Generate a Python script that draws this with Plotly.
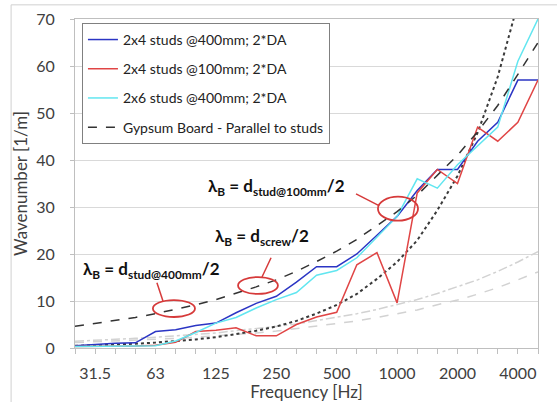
import plotly.graph_objects as go

bands = ["25", "31.5", "40", "50", "63", "80", "100", "125", "160", "200", "250", "315",
         "400", "500", "630", "800", "1000", "1250", "1600", "2000", "2500", "3150", "4000", "5000"]
tick_labels = ["31.5", "63", "125", "250", "500", "1000", "2000", "4000"]

studs2x4_400 = [0.5, 0.8, 1.0, 1.1, 3.5, 3.9, 4.8, 5.3, 7.5, 9.5, 11.0, 14.0,
                17.3, 17.3, 20.0, 24.0, 28.0, 33.5, 38.0, 38.0, 44.0, 48.0, 57.0, 57.0]
studs2x4_100 = [0.3, 0.3, 0.3, 0.4, 0.6, 1.2, 3.5, 3.8, 4.3, 2.6, 2.6, 5.0,
                6.6, 7.6, 17.7, 20.3, 9.6, 33.0, 38.0, 35.0, 47.0, 44.0, 48.0, 57.0]
studs2x6_400 = [0.3, 0.3, 0.4, 0.4, 0.5, 1.5, 3.3, 5.3, 6.5, 8.5, 10.3, 11.8,
                15.5, 16.5, 19.2, 23.5, 28.0, 36.0, 34.0, 39.0, 43.0, 47.0, 61.0, 70.0]
gypsum_parallel = [4.6, 5.2, 5.8, 6.5, 7.3, 8.2, 9.2, 10.3, 11.6, 13.0, 14.5, 16.3,
                   18.4, 20.6, 23.1, 26.0, 29.0, 32.5, 36.8, 41.0, 46.0, 51.6, 58.2, 65.0]
air_curve = [0.46, 0.58, 0.73, 0.92, 1.15, 1.47, 1.83, 2.29, 2.93, 3.66, 4.58, 5.77,
             7.33, 9.16, 11.5, 14.7, 18.3, 22.9, 29.3, 36.6, 45.8, 57.7, 73.3, 91.6]
grey_upper = [1.45, 1.6, 1.8, 2.05, 2.3, 2.6, 2.9, 3.2, 3.7, 4.1, 4.6, 5.1,
              5.8, 6.5, 7.3, 8.2, 9.2, 10.3, 11.6, 13.0, 14.5, 16.3, 18.3, 20.5]
grey_lower = [1.15, 1.3, 1.45, 1.6, 1.8, 2.05, 2.3, 2.55, 2.9, 3.2, 3.6, 4.1,
              4.6, 5.1, 5.75, 6.5, 7.25, 8.1, 9.2, 10.2, 11.45, 12.85, 14.5, 16.2]

FONT = "Lato"
fig = go.Figure()

# background curves (no legend)
fig.add_trace(go.Scatter(x=bands, y=grey_upper, mode="lines", showlegend=False,
                         line=dict(color="#d2d2d2", width=1.5, dash="dashdot")))
fig.add_trace(go.Scatter(x=bands, y=grey_lower, mode="lines", showlegend=False,
                         line=dict(color="#d2d2d2", width=1.5, dash="dash")))
fig.add_trace(go.Scatter(x=bands, y=air_curve, mode="lines", showlegend=False,
                         line=dict(color="#3a3a3a", width=2, dash="dot")))

fig.add_trace(go.Scatter(x=bands, y=studs2x4_400, mode="lines", name="2x4 studs @400mm; 2*DA",
                         legendgroup="a", line=dict(color="#2b35c4", width=1.5)))
fig.add_trace(go.Scatter(x=bands, y=studs2x4_100, mode="lines", name="2x4 studs @100mm; 2*DA",
                         legendgroup="b", line=dict(color="#e04545", width=1.5)))
fig.add_trace(go.Scatter(x=bands, y=studs2x6_400, mode="lines", name="2x6 studs @400mm; 2*DA",
                         legendgroup="c", line=dict(color="#62e6f0", width=1.5)))
fig.add_trace(go.Scatter(x=bands, y=gypsum_parallel, mode="lines",
                         name="Gypsum Board - Parallel to studs",
                         legendgroup="d", line=dict(color="#333333", width=1.5, dash="dash")))

ticktext = [b if b in tick_labels else "" for b in bands]

fig.update_xaxes(type="category", categoryorder="array", categoryarray=bands,
                 range=[0, 23], tickmode="array", tickvals=bands, ticktext=ticktext,
                 ticks="outside", ticklen=5, tickcolor="#bfbfbf", ticklabelstandoff=6,
                 automargin=False,
                 showgrid=False, showline=True, linecolor="#bfbfbf", mirror=True,
                 tickfont=dict(family=FONT, size=16, color="#404040"),
                 title=dict(text="Frequency [Hz]", standoff=0,
                            font=dict(family=FONT, size=17, color="#404040")))
fig.update_yaxes(range=[0, 70], dtick=10, ticks="outside", ticklen=4, tickcolor="#bfbfbf",
                 ticklabelstandoff=12, automargin=False,
                 showgrid=True, gridcolor="#d9d9d9", zeroline=False,
                 showline=True, linecolor="#bfbfbf", mirror=True,
                 tickfont=dict(family=FONT, size=16, color="#404040"),
                 title=dict(text="Wavenumber [1/m]", standoff=4,
                            font=dict(family=FONT, size=17, color="#404040")))

RED = "#d63a3a"
ellipses = [(3.87, 5.96, 6.6, 10.2), (8.10, 10.08, 11.5, 15.1), (15.05, 17.04, 27.1, 32.2)]
for x0, x1, y0, y1 in ellipses:
    fig.add_shape(type="circle", xref="x", yref="y", x0=x0, x1=x1, y0=y0, y1=y1,
                  line=dict(color=RED, width=1.8))
pointers = [(4.07, 13.9, 4.37, 10.0), (9.74, 19.2, 9.29, 15.1), (13.96, 32.8, 15.1, 30.3)]
for x0, y0, x1, y1 in pointers:
    fig.add_shape(type="line", xref="x", yref="y", x0=x0, y0=y0, x1=x1, y1=y1,
                  line=dict(color=RED, width=1.5))

labels = [(10.03, 34.3, "λ<sub>B</sub> = d<sub>stud@100mm</sub>/2"),
          (9.3, 23.7, "λ<sub>B</sub> = d<sub>screw</sub>/2"),
          (3.8, 16.6, "λ<sub>B</sub> = d<sub>stud@400mm</sub>/2")]
for x, y, t in labels:
    fig.add_annotation(x=x, y=y, xref="x", yref="y", text="<b>" + t + "</b>", showarrow=False,
                       font=dict(family=FONT, size=17, color="#111111"))

# chart frame
fig.add_shape(type="line", xref="paper", yref="paper", x0=-0.138, x1=1.2, y0=1.043, y1=1.043,
              line=dict(color="#d0d0d0", width=1))
fig.add_shape(type="line", xref="paper", yref="paper", x0=-0.138, x1=-0.138, y0=1.043, y1=-0.2,
              line=dict(color="#d0d0d0", width=1))

fig.update_layout(
    width=557, height=402,
    margin=dict(l=75, r=19, t=19, b=54),
    paper_bgcolor="white", plot_bgcolor="white",
    legend=dict(x=0.015, y=0.988, xanchor="left", yanchor="top",
                bgcolor="white", bordercolor="#808080", borderwidth=1,
                font=dict(family=FONT, size=14, color="#222222"),
                tracegroupgap=8, itemwidth=30),
)

fig.write_html("out.html")
